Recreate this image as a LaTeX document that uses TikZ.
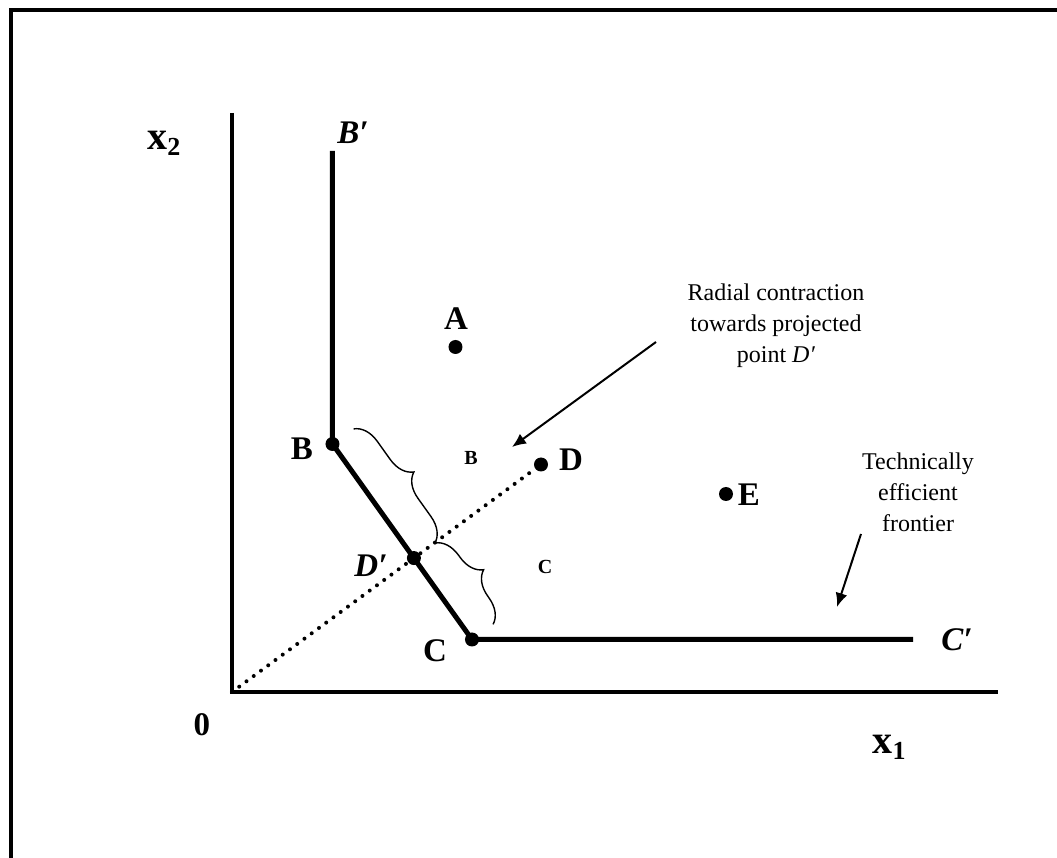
\documentclass[tikz,border=0pt]{standalone}
\usepackage{fontspec}
\setmainfont{Liberation Serif}[
  BoldFont={Liberation Serif Bold},
  ItalicFont={Liberation Serif Italic},
  BoldItalicFont={Liberation Serif Bold Italic}]
\usetikzlibrary{arrows.meta,decorations.pathreplacing}

\begin{document}
\begin{tikzpicture}[x=0.5pt, y=0.5pt,
  frame/.style={line width=2pt},
  axis/.style={line width=1.6pt},
  frontier/.style={line width=2.5pt},
  dot/.style={circle, fill, inner sep=0pt, minimum size=7pt},
  lbl/.style={font=\fontsize{16.5}{16.5}\selectfont\bfseries, inner sep=0pt},
  lblit/.style={font=\fontsize{16.5}{16.5}\selectfont\bfseries\itshape, inner sep=0pt},
  small/.style={font=\fontsize{10}{10}\selectfont\bfseries, inner sep=0pt},
  note/.style={font=\fontsize{12}{15.5}\selectfont, align=center, inner sep=0pt},
  arr/.style={-{Latex[length=7pt, width=6pt]}, line width=1pt},
  ray/.style={line width=2pt, line cap=round, dash pattern=on 0pt off 4.5pt},
  brc/.style={decorate, decoration={brace, amplitude=12pt, raise=13pt}, line width=0.7pt}
]
\useasboundingbox (-232,-166) rectangle (825,692);
% frame, open at the bottom and right
\draw[frame] (-221,-166) -- (-221,682) -- (825,682);
% axes
\coordinate (O) at (0,0);
\draw[axis] (0,579) -- (O) -- (766,0);
\node[font=\fontsize{20}{20}\selectfont\bfseries, inner sep=0pt] (xtwo) at (-68,549) {x\raisebox{-3pt}{\fontsize{13}{13}\selectfont 2}};
\node[font=\fontsize{20}{20}\selectfont\bfseries, inner sep=0pt] (xone) at (657,-55) {x\raisebox{-3pt}{\fontsize{13}{13}\selectfont 1}};
\node[lbl] (zero) at (-30,-33) {0};
% points
\node[dot] (A) at (223.5,345) {};
\node[dot] (B) at (100.5,248) {};
\node[dot] (C) at (240,52.5) {};
\node[dot] (D) at (309,227.5) {};
\node[dot] (E) at (494,198) {};
\coordinate (Bp) at (100.5,541);
\coordinate (Cp) at (681,52.5);
\coordinate (proj) at (intersection of B.center--C.center and O--D.center);
% frontier and radial ray
\draw[frontier] (Bp) -- (B.center) -- (C.center) -- (Cp);
\draw[ray] (O) -- (D);
\node[dot] (Dprime) at (proj) {};
% braces
\draw[brc] (B.center) -- (Dprime.center);
\draw[brc] (Dprime.center) -- (C.center);
% labels
\node[lbl] (labA) at (224,373) {A};
\node[lbl] (labB) at (70,243) {B};
\node[lbl] (labC) at (203,41) {C};
\node[lbl] (labD) at (339,232) {D};
\node[lbl] (labE) at (517,197) {E};
\node[lblit] (labBp) at (121,559) {B′};
\node[lblit] (labCp) at (725,52) {C′};
\node[lblit] (labDp) at (139,126) {D′};
\node[small] (smB) at (239,234.5) {B};
\node[small] (smC) at (313,125) {C};
% notes
\node[note] (radial) at (544,366) {Radial contraction\\towards projected\\point \textit{D′}};
\coordinate (radtail) at (424,350);
\coordinate (radhead) at (280,245);
\draw[arr] (radtail) -- (radhead);
\node[note] (tef) at (686,200) {Technically\\efficient\\frontier};
\coordinate (teftail) at (629,158);
\coordinate (tefhead) at (605,85);
\draw[arr] (teftail) -- (tefhead);
\end{tikzpicture}
\end{document}
